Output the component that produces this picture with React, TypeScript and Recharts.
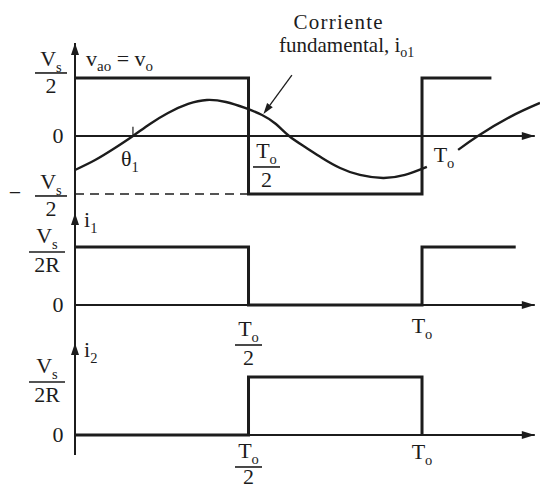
import React from 'react';
import { ComposedChart, Line, XAxis, YAxis, ReferenceLine, ReferenceDot } from 'recharts';

const FONT = '"Liberation Serif", "DejaVu Serif", serif';
const INK = '#1c1c1c';

// time axis in units of the period To
const X_DOMAIN: [number, number] = [0, 1.34];
const AXIS_END = 1.325;

// output voltage v_ao (in units of Vs/2)
const vaoT = [0, 0.5, 0.5, 1, 1, 1.2];
const vaoV = [1, 1, -1, -1, 1, 1];

// fundamental current i_o1, drawn in two pieces around the To label
const io1T = [0, 0.058, 0.115, 0.167, 0.216, 0.268, 0.326, 0.38, 0.435, 0.49, 0.539, 0.579, 0.617, 0.663, 0.712, 0.764, 0.821, 0.888, 0.951, 1.014];
const io1V = [-0.586, -0.414, -0.207, 0, 0.207, 0.397, 0.552, 0.621, 0.586, 0.483, 0.362, 0.207, 0, -0.19, -0.379, -0.552, -0.672, -0.724, -0.672, -0.534];
const io1bT = [1.104, 1.161, 1.254, 1.34];
const io1bV = [-0.24, 0, 0.33, 0.57];

// switch currents i1, i2 (in units of Vs/2R)
const i1T = [0, 0.5, 0.5, 1, 1, 1.27];
const i1V = [1, 1, 0, 0, 1, 1];
const i2T = [0, 0.5, 0.5, 1, 1];
const i2V = [0, 0, 1, 1, 0];

// axis marks
const voltTicks = [-1, 0, 1];
const currTicks = [0, 1];
const theta1 = 0.167;

const pts = (ts: number[], vs: number[]) => ts.map((t, i) => ({ t, v: vs[i] }));

const Sym = ({ x, y, base, sub, size = 22, anchor = 'middle', spacing = 0 }: any) => (
  <text x={x} y={y} fontFamily={FONT} fontSize={size} fill={INK} textAnchor={anchor} letterSpacing={spacing}>
    {base}
    {sub ? (
      <tspan dy={size * 0.28} fontSize={size * 0.66}>
        {sub}
      </tspan>
    ) : null}
  </text>
);

const Frac = ({ cx, cy, num, numSub, den, w, gap = 7, drop = 20 }: any) => (
  <g>
    <Sym x={cx} y={cy - gap} base={num} sub={numSub} />
    <line x1={cx - w / 2} x2={cx + w / 2} y1={cy} y2={cy} stroke={INK} strokeWidth={1.6} />
    <text x={cx} y={cy + drop} fontFamily={FONT} fontSize={22} fill={INK} textAnchor="middle">
      {den}
    </text>
  </g>
);

const VoltTick = (p: any) => {
  const { x, y, payload } = p;
  const v = payload.value;
  if (v === 0) return <Sym x={x - 17} y={y + 7} base="0" />;
  if (v > 0) return <Frac cx={x - 24} cy={y - 5} num="V" numSub="s" den="2" w={32} />;
  return (
    <g>
      <Sym x={x - 60} y={y + 6} base="−" />
      <Frac cx={x - 24} cy={y + 2} num="V" numSub="s" den="2" w={32} />
    </g>
  );
};

const CurrTick = (p: any) => {
  const { x, y, payload } = p;
  if (payload.value === 0) return <Sym x={x - 17} y={y + 7} base="0" />;
  return <Frac cx={x - 28} cy={y + 5} num="V" numSub="s" den="2R" w={36} gap={9} />;
};

const ArrowUp = (p: any) => <path d={`M${p.cx},${p.cy} l-4,12 l8,0 z`} fill={INK} />;
const ArrowRight = (p: any) => <path d={`M${p.cx},${p.cy} l-13,-4 l0,8 z`} fill={INK} />;

const Pointer = (p: any) => {
  const { x1, y1, x2, y2 } = p;
  if (x1 == null) return null;
  const a = Math.atan2(y2 - y1, x2 - x1);
  const bx = x2 - 11 * Math.cos(a);
  const by = y2 - 11 * Math.sin(a);
  const nx = -Math.sin(a) * 3.5;
  const ny = Math.cos(a) * 3.5;
  return (
    <g>
      <line x1={x1} y1={y1} x2={bx} y2={by} stroke={INK} strokeWidth={1.3} />
      <path d={`M${x2},${y2} L${bx + nx},${by + ny} L${bx - nx},${by - ny} Z`} fill={INK} />
    </g>
  );
};

const margin = (top: number, bottom: number) => ({ top, right: 6, bottom, left: 0 });

const xAxis = <XAxis dataKey="t" type="number" domain={X_DOMAIN} allowDataOverflow hide />;

const yAxisProps = {
  type: 'number' as const,
  width: 75,
  allowDataOverflow: true,
  interval: 0 as const,
  tickLine: false,
  tickSize: 0,
  tickMargin: 0,
  axisLine: { stroke: INK, strokeWidth: 2 },
};

const zeroAxis = (
  <ReferenceLine
    segment={[{ x: 0, y: 0 }, { x: AXIS_END, y: 0 }]}
    stroke={INK}
    strokeWidth={1.8}
    ifOverflow="visible"
  />
);

export default function App() {
  const VOLT_DOMAIN: [number, number] = [-1.328, 1.603];
  const I1_DOMAIN: [number, number] = [-0.655, 1.586];
  const I2_DOMAIN: [number, number] = [-0.345, 1.586];

  return (
    <div style={{ position: 'absolute', left: 0, top: 0, width: 546, height: 490, background: '#fff' }}>
      <style>{'.recharts-surface { overflow: visible; }'}</style>

      {/* output voltage and its fundamental current */}
      <div style={{ position: 'absolute', left: 0, top: 0 }}>
        <ComposedChart width={546} height={213} margin={margin(43, 0)}>
          {xAxis}
          <YAxis {...yAxisProps} domain={VOLT_DOMAIN} ticks={voltTicks} tick={<VoltTick />} />
          {zeroAxis}
          <ReferenceDot x={AXIS_END} y={0} ifOverflow="visible" shape={ArrowRight} />
          <ReferenceDot x={0} y={VOLT_DOMAIN[1]} ifOverflow="visible" shape={ArrowUp} />
          <ReferenceLine
            segment={[{ x: 0, y: -1 }, { x: 0.5, y: -1 }]}
            stroke={INK}
            strokeWidth={1.6}
            strokeDasharray="9 6"
          />
          <ReferenceLine
            segment={[{ x: theta1, y: 0 }, { x: theta1, y: 0.16 }]}
            stroke={INK}
            strokeWidth={1.2}
          />
          <Line data={pts(vaoT, vaoV)} dataKey="v" type="linear" stroke={INK} strokeWidth={3} dot={false} isAnimationActive={false} />
          <Line data={pts(io1T, io1V)} dataKey="v" type="natural" stroke={INK} strokeWidth={2.4} dot={false} isAnimationActive={false} />
          <Line data={pts(io1bT, io1bV)} dataKey="v" type="natural" stroke={INK} strokeWidth={2.4} dot={false} isAnimationActive={false} />
          <ReferenceLine
            segment={[{ x: 0.625, y: 1.05 }, { x: 0.543, y: 0.38 }]}
            ifOverflow="visible"
            shape={Pointer}
          />
          <ReferenceDot
            x={0}
            y={1}
            ifOverflow="visible"
            shape={(p: any) => (
              <text x={p.cx + 11} y={p.cy - 12} fontFamily={FONT} fontSize={22} fill={INK}>
                v<tspan dy={5} fontSize={15}>ao</tspan>
                <tspan dy={-5}> = v</tspan>
                <tspan dy={5} fontSize={15}>o</tspan>
              </text>
            )}
          />
          <ReferenceDot
            x={0.78}
            y={1}
            ifOverflow="visible"
            shape={(p: any) => (
              <g>
                <Sym x={p.cx - 7} y={p.cy - 49} base="Corriente" size={21} spacing={1.2} />
                <text x={p.cx + 1} y={p.cy - 26} fontFamily={FONT} fontSize={21} fill={INK} textAnchor="middle">
                  fundamental, i<tspan dy={5} fontSize={14}>o1</tspan>
                </text>
              </g>
            )}
          />
          <ReferenceDot x={theta1} y={0} ifOverflow="visible" shape={(p: any) => <Sym x={p.cx - 3} y={p.cy + 30} base="θ" sub="1" />} />
          <ReferenceDot x={0.5} y={0} ifOverflow="visible" shape={(p: any) => <Frac cx={p.cx + 18} cy={p.cy + 31} num="T" numSub="o" den="2" w={27} gap={9} />} />
          <ReferenceDot x={1} y={0} ifOverflow="visible" shape={(p: any) => <Sym x={p.cx + 22} y={p.cy + 26} base="T" sub="o" />} />
        </ComposedChart>
      </div>

      {/* switch current i1 */}
      <div style={{ position: 'absolute', left: 0, top: 213 }}>
        <ComposedChart width={546} height={130} margin={margin(0, 0)}>
          {xAxis}
          <YAxis {...yAxisProps} domain={I1_DOMAIN} ticks={currTicks} tick={<CurrTick />} />
          {zeroAxis}
          <ReferenceDot x={AXIS_END} y={0} ifOverflow="visible" shape={ArrowRight} />
          <ReferenceDot x={0} y={I1_DOMAIN[1]} ifOverflow="visible" shape={ArrowUp} />
          <Line data={pts(i1T, i1V)} dataKey="v" type="linear" stroke={INK} strokeWidth={3} dot={false} isAnimationActive={false} />
          <ReferenceDot x={0} y={I1_DOMAIN[1]} ifOverflow="visible" shape={(p: any) => <Sym x={p.cx + 9} y={p.cy + 14} base="i" sub="1" anchor="start" />} />
          <ReferenceDot x={0.5} y={0} ifOverflow="visible" shape={(p: any) => <Frac cx={p.cx} cy={p.cy + 40} num="T" numSub="o" den="2" w={27} gap={9} />} />
          <ReferenceDot x={1} y={0} ifOverflow="visible" shape={(p: any) => <Sym x={p.cx} y={p.cy + 28} base="T" sub="o" />} />
        </ComposedChart>
      </div>

      {/* switch current i2 */}
      <div style={{ position: 'absolute', left: 0, top: 343 }}>
        <ComposedChart width={546} height={112} margin={margin(0, 0)}>
          {xAxis}
          <YAxis {...yAxisProps} domain={I2_DOMAIN} ticks={currTicks} tick={<CurrTick />} />
          {zeroAxis}
          <ReferenceDot x={AXIS_END} y={0} ifOverflow="visible" shape={ArrowRight} />
          <ReferenceDot x={0} y={I2_DOMAIN[1]} ifOverflow="visible" shape={ArrowUp} />
          <Line data={pts(i2T, i2V)} dataKey="v" type="linear" stroke={INK} strokeWidth={3} dot={false} isAnimationActive={false} />
          <ReferenceDot x={0} y={I2_DOMAIN[1]} ifOverflow="visible" shape={(p: any) => <Sym x={p.cx + 9} y={p.cy + 14} base="i" sub="2" anchor="start" />} />
          <ReferenceDot x={0.5} y={0} ifOverflow="visible" shape={(p: any) => <Frac cx={p.cx} cy={p.cy + 32} num="T" numSub="o" den="2" w={27} gap={9} drop={17} />} />
          <ReferenceDot x={1} y={0} ifOverflow="visible" shape={(p: any) => <Sym x={p.cx} y={p.cy + 24} base="T" sub="o" />} />
        </ComposedChart>
      </div>
    </div>
  );
}
